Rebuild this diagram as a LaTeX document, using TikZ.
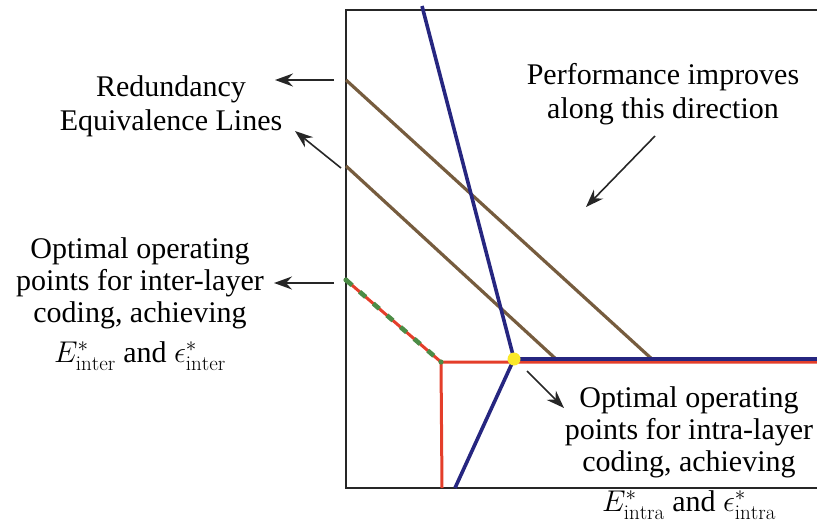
\RequirePackage{fix-cm}
\documentclass[tikz,border=0pt]{standalone}
\usepackage{fontspec}
\newfontfamily\tnr{Liberation Serif}
\usetikzlibrary{arrows.meta}
\definecolor{navy}{RGB}{38,38,128}
\definecolor{brownline}{RGB}{118,92,62}
\definecolor{redline}{RGB}{228,62,42}
\definecolor{greendash}{RGB}{76,140,70}
\definecolor{yellowdot}{RGB}{250,232,40}
\tikzset{
  frame/.style={draw=black!85, line width=1.6pt},
  blueline/.style={draw=navy, line width=3.6pt},
  brownln/.style={draw=brownline, line width=3.2pt},
  redln/.style={draw=redline, line width=3pt},
  greenln/.style={draw=greendash, line width=4.6pt, dash pattern=on 8pt off 10pt},
  arr/.style={draw=black!85, line width=1.6pt, -{Stealth[length=18pt,width=13pt,inset=6pt]}},
  timestext/.style={align=center, font=\tnr\fontsize{30}{34}\selectfont, inner sep=0pt},
  opttext/.style={align=center, font=\tnr\fontsize{30}{32}\selectfont, inner sep=0pt}
}
\begin{document}
\begin{tikzpicture}[x=1pt,y=-1pt]
\useasboundingbox (0,0) rectangle (817,525);
% frame
\coordinate (TR) at (817,10);
\coordinate (TL) at (346,10);
\coordinate (BL) at (346,488);
\coordinate (BR) at (817,488);
\draw[frame] (TR) -- (TL) -- (BL) -- (BR);
% key points
\coordinate (Y) at (514,359);
\coordinate (K) at (441,362);
\coordinate (G) at (346,280);
\coordinate (Kb) at (442,488);
\coordinate (Rr) at (817,362);
\coordinate (Bt) at (422,6);
\coordinate (Bb) at (455,488);
\coordinate (Br) at (817,359);
\coordinate (L1a) at (346,80);
\coordinate (L1b) at (653,360);
\coordinate (L2a) at (346,166);
\coordinate (L2b) at (557,360);
% red curve
\draw[redln] (Kb) -- (K) -- (Rr);
\draw[redln, line cap=round] (G) -- (K);
\draw[greenln] (G) -- (K);
\fill[greendash] (G) circle (2.6pt);
\fill[greendash] (K) circle (2.6pt);
% brown lines
\draw[brownln] (L1a) -- (L1b);
\draw[brownln] (L2a) -- (L2b);
% blue curve
\draw[blueline, line join=round] (Bt) -- (Y) -- (Bb);
\draw[blueline] (Y) -- (Br);
% yellow point
\fill[yellowdot] (Y) circle (6.5pt);
% texts
\node[timestext] (red) at (171,106) {Redundancy\\Equivalence Lines};
\node[timestext] (perf) at (663,94) {Performance improves\\along this direction};
\node[opttext] (inter) at (140,304) {Optimal operating\\points for inter-layer\\coding, achieving\\[8pt]$E^*_{\mathrm{inter}}$ and $\epsilon^*_{\mathrm{inter}}$};
\node[opttext] (intra) at (689,453) {Optimal operating\\points for intra-layer\\coding, achieving\\[8pt]$E^*_{\mathrm{intra}}$ and $\epsilon^*_{\mathrm{intra}}$};
% arrows
\coordinate (a1s) at (334,80);
\coordinate (a1e) at (275,80);
\coordinate (a2s) at (341,168);
\coordinate (a2e) at (295,131);
\coordinate (a3s) at (334,283);
\coordinate (a3e) at (274,283);
\coordinate (a4s) at (655,136);
\coordinate (a4e) at (586,207);
\coordinate (a5s) at (527,371);
\coordinate (a5e) at (564,408);
\draw[arr] (a1s) -- (a1e);
\draw[arr] (a2s) -- (a2e);
\draw[arr] (a3s) -- (a3e);
\draw[arr] (a4s) -- (a4e);
\draw[arr] (a5s) -- (a5e);
\end{tikzpicture}
\end{document}
